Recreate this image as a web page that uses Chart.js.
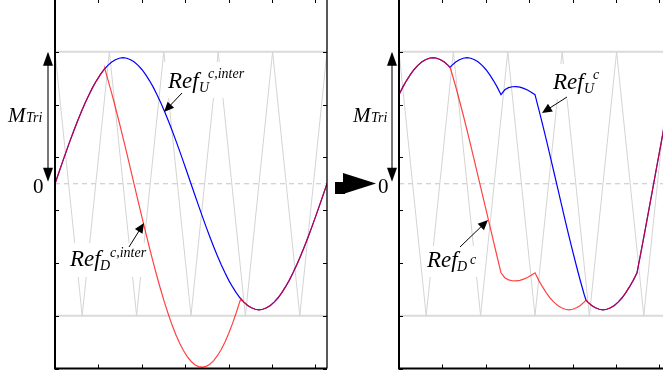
<!DOCTYPE html>
<html><head><meta charset="utf-8">
<script src="https://cdn.jsdelivr.net/npm/chart.js@4.4.0/dist/chart.umd.min.js"></script>
<style>
html,body{margin:0;padding:0;overflow:hidden;background:#fff;width:663px;height:375px;}
canvas{position:absolute;top:-3px;}
#c1{left:0px}
#c2{left:330px}
</style></head><body>
<canvas id="c1" width="330" height="380"></canvas>
<canvas id="c2" width="350" height="380"></canvas>
<script>
// ---------- data (phase angle in degrees, per-unit values) ----------
const carrierX = [0,36,72,108,144,180,216,252,288,324,360];
const carrierY = [1,-1,1,-1,1,-1,1,-1,1,-1,1];
const limitLevels = [1,-1];
const zeroLevel = 0;
const xTickPos = [0,57.4,114.9,172.3,229.8,287.2,344.7];
const yTickPos = [-1.4,-1,-0.6,-0.2,0.2,0.6,1,1.4];

const leftUpperX = [0,5,10,15,20,25,30,35,40,45,50,55,60,65,70,75,80,85,90,95,100,105,110,115,120,125,130,135,140,145,150,155,160,165,170,175,180,185,190,195,200,205,210,215,220,225,230,235,240,245,250,255,260,265,270,275,280,285,290,295,300,305,310,315,320,325,330,335,340,345,350,355,360];
const leftUpperY = [0,.083,.166,.247,.327,.404,.478,.548,.614,.675,.732,.782,.827,.866,.897,.922,.940,.951,.955,.951,.940,.922,.897,.866,.827,.782,.732,.675,.614,.548,.478,.404,.327,.247,.166,.083,0,-.083,-.166,-.247,-.327,-.404,-.478,-.548,-.614,-.675,-.732,-.782,-.827,-.866,-.897,-.922,-.940,-.951,-.955,-.951,-.940,-.922,-.897,-.866,-.827,-.782,-.732,-.675,-.614,-.548,-.478,-.404,-.327,-.247,-.166,-.083,0];

const leftLowerX = [0,5,10,15,20,25,30,35,40,45,50,55,60,65,66,70,75,80,85,90,95,100,105,110,115,120,125,130,135,140,145,150,155,160,165,170,175,180,185,190,195,200,205,210,215,220,225,230,235,240,245,246,250,255,260,265,270,275,280,285,290,295,300,305,310,315,320,325,330,335,340,345,350,355,360];
const leftLowerY = [0,.083,.166,.247,.327,.404,.478,.548,.614,.675,.732,.782,.827,.866,.870,.789,.687,.578,.466,.350,.232,.111,-.010,-.131,-.251,-.369,-.485,-.596,-.703,-.805,-.901,-.989,-1.071,-1.144,-1.209,-1.264,-1.310,-1.345,-1.371,-1.386,-1.390,-1.384,-1.367,-1.340,-1.303,-1.256,-1.199,-1.133,-1.058,-.976,-.886,-.872,-.897,-.922,-.940,-.951,-.955,-.951,-.940,-.922,-.897,-.866,-.827,-.782,-.732,-.675,-.614,-.548,-.478,-.404,-.327,-.247,-.166,-.083,0];

const rightUpperX = [0,5,10,15,20,25,30,35,40,45,50,55,60,65,67.5,70,75,80,85,90,95,100,105,110,115,120,125,130,135,140,145,150,155,160,165,170,175,180,185,190,195,200,205,210,215,220,225,230,235,240,245,247.5,250,255,260,265,270,275,280,285,290,295,300,305,310,315,320,325,330,335,340,345,350,355,360];
const rightUpperY = [.675,.732,.782,.827,.866,.897,.922,.940,.951,.955,.951,.940,.922,.897,.882,.897,.922,.940,.951,.955,.951,.940,.922,.897,.866,.827,.782,.732,.675,.712,.728,.735,.736,.732,.723,.710,.694,.675,.564,.450,.332,.211,.089,-.034,-.157,-.279,-.398,-.515,-.627,-.735,-.837,-.882,-.897,-.922,-.940,-.951,-.955,-.951,-.940,-.922,-.897,-.866,-.827,-.782,-.732,-.675,-.526,-.374,-.219,-.063,.094,.250,.405,.556,.675];

const rightLowerX = rightUpperX;
const rightLowerY = [.675,.732,.782,.827,.866,.897,.922,.940,.951,.955,.951,.940,.922,.897,.882,.837,.737,.631,.521,.406,.289,.169,.049,-.073,-.193,-.313,-.435,-.555,-.675,-.712,-.728,-.735,-.736,-.732,-.723,-.710,-.694,-.675,-.732,-.782,-.827,-.866,-.897,-.922,-.940,-.951,-.955,-.951,-.940,-.922,-.897,-.882,-.897,-.922,-.940,-.951,-.955,-.951,-.940,-.922,-.897,-.866,-.827,-.782,-.732,-.675,-.526,-.374,-.219,-.063,.094,.250,.405,.556,.675];

// ---------- helpers ----------
const zip = (xs, ys) => xs.map((x, i) => ({x, y: ys[i]}));
const SERIF = '"Liberation Serif", "DejaVu Serif", serif';

function arrowHead(ctx, x0, y0, x1, y1, len, hw) {
  const a = Math.atan2(y1 - y0, x1 - x0);
  const bx = x1 - len * Math.cos(a), by = y1 - len * Math.sin(a);
  ctx.beginPath();
  ctx.moveTo(x1, y1);
  ctx.lineTo(bx + hw * Math.sin(a), by - hw * Math.cos(a));
  ctx.lineTo(bx - hw * Math.sin(a), by + hw * Math.cos(a));
  ctx.closePath();
  ctx.fill();
}

function decorPlugin(deco) {
  return {
    id: 'decor',
    afterDatasetDraw(chart, args) {
      if (chart.data.datasets[args.index].label !== 'carrier') return;
      const ctx = chart.ctx;
      ctx.save();
      ctx.translate(-deco.left, 3);
      ctx.fillStyle = '#fff';
      deco.refs.forEach(r => { const b = r.box; ctx.fillRect(b[0], b[1], b[2]-b[0], b[3]-b[1]); });
      ctx.restore();
    },
    afterDraw(chart) {
      const ctx = chart.ctx, xs = chart.scales.x, ys = chart.scales.y, ca = chart.chartArea;
      // frame
      ctx.save();
      ctx.strokeStyle = '#000';
      ctx.lineWidth = 2;
      ctx.beginPath();
      ctx.moveTo(ca.left, ca.top); ctx.lineTo(ca.left, ca.bottom); ctx.lineTo(ca.right, ca.bottom);
      ctx.stroke();
      ctx.lineWidth = 1.3;
      ctx.beginPath();
      ctx.moveTo(ca.right, ca.bottom); ctx.lineTo(ca.right, ca.top); ctx.lineTo(ca.left, ca.top);
      ctx.stroke();
      // inward ticks
      ctx.lineWidth = 1;
      ctx.beginPath();
      xTickPos.forEach(v => {
        const p = Math.round(xs.getPixelForValue(v)) + 0.5;
        ctx.moveTo(p, ca.bottom); ctx.lineTo(p, ca.bottom - 4);
        ctx.moveTo(p, ca.top); ctx.lineTo(p, ca.top + 4);
      });
      yTickPos.forEach(v => {
        const p = Math.round(ys.getPixelForValue(v)) + 0.5;
        ctx.moveTo(ca.left, p); ctx.lineTo(ca.left + 4, p);
        ctx.moveTo(ca.right, p); ctx.lineTo(ca.right - 4, p);
      });
      ctx.stroke();
      ctx.restore();

      ctx.save();
      ctx.translate(-deco.left, 3);
      ctx.fillStyle = '#000';
      ctx.textBaseline = 'alphabetic';
      // M_Tri
      ctx.font = 'italic 21px ' + SERIF;
      ctx.fillText('M', deco.mtri.x, deco.mtri.y);
      const mw = ctx.measureText('M').width;
      ctx.font = 'italic 14px ' + SERIF;
      ctx.fillText('Tri', deco.mtri.x + mw + 0.5, deco.mtri.y);
      // zero
      ctx.font = '21px ' + SERIF;
      ctx.fillText('0', deco.zero.x, deco.zero.y);
      // double arrow
      const yTop = ys.getPixelForValue(limitLevels[0]) - 3;
      const yBot = ys.getPixelForValue(zeroLevel) - 3 - 2;
      ctx.strokeStyle = '#777';
      ctx.lineWidth = 2;
      ctx.beginPath();
      ctx.moveTo(deco.dbl.x, yTop + 10); ctx.lineTo(deco.dbl.x, yBot - 10);
      ctx.stroke();
      ctx.fillStyle = '#000';
      arrowHead(ctx, deco.dbl.x, yBot, deco.dbl.x, yTop, 14, 5);
      arrowHead(ctx, deco.dbl.x, yTop, deco.dbl.x, yBot, 14, 5);
      // labels
      deco.refs.forEach(r => {
        ctx.fillStyle = '#000';
        ctx.font = 'italic 23px ' + SERIF;
        ctx.fillText(r.main, r.x, r.y);
        ctx.font = 'italic 14px ' + SERIF;
        ctx.fillText(r.sub, r.subX, r.subY);
        ctx.font = 'italic 14px ' + SERIF;
        ctx.fillText(r.sup, r.supX, r.supY);
        ctx.strokeStyle = '#000';
        ctx.lineWidth = 1;
        ctx.beginPath();
        ctx.moveTo(r.from[0], r.from[1]);
        const a = Math.atan2(r.to[1]-r.from[1], r.to[0]-r.from[0]);
        ctx.lineTo(r.to[0] - 8*Math.cos(a), r.to[1] - 8*Math.sin(a));
        ctx.stroke();
        arrowHead(ctx, r.from[0], r.from[1], r.to[0], r.to[1], 10, 4.5);
      });
      // big arrow between panels
      if (deco.bigArrow) {
        ctx.fillStyle = '#000';
        ctx.fillRect(335, 182, 10, 12);
        ctx.beginPath();
        ctx.moveTo(343, 173); ctx.lineTo(376, 183.5); ctx.lineTo(343, 194);
        ctx.closePath(); ctx.fill();
      }
      ctx.restore();
    }
  };
}

function buildChart(id, upperX, upperY, lowerX, lowerY, padding, deco) {
  const xmin = carrierX[0], xmax = carrierX[carrierX.length - 1];
  const hline = (v, color, width, dash) => ({
    label: 'level', data: [{x: xmin, y: v}, {x: xmax, y: v}],
    borderColor: color, borderWidth: width, borderDash: dash, pointRadius: 0, order: 3
  });
  return new Chart(document.getElementById(id), {
    type: 'line',
    data: {
      datasets: [
        {label: 'lower', data: zip(lowerX, lowerY), borderColor: 'rgba(255,0,0,0.74)', borderWidth: 1.2, pointRadius: 0, tension: 0, order: 0},
        {label: 'upper', data: zip(upperX, upperY), borderColor: '#0000ff', borderWidth: 1.2, pointRadius: 0, tension: 0, order: 1},
        {label: 'carrier', data: zip(carrierX, carrierY), borderColor: '#d4d4d4', borderWidth: 1, pointRadius: 0, tension: 0, order: 2},
        hline(limitLevels[0], '#dadada', 2, []),
        hline(limitLevels[1], '#dadada', 2, []),
        hline(zeroLevel, '#c4c4c4', 1, [5, 4])
      ]
    },
    options: {
      responsive: false, animation: false, events: [],
      layout: {padding},
      scales: {
        x: {type: 'linear', min: xmin, max: xmax, display: false},
        y: {type: 'linear', min: -1.4, max: 1.4, display: false}
      },
      plugins: {legend: {display: false}, tooltip: {enabled: false}}
    },
    plugins: [decorPlugin(deco)]
  });
}

buildChart('c1', leftUpperX, leftUpperY, leftLowerX, leftLowerY,
  {left: 55, right: 3, top: 2, bottom: 8.5},
  {left: 0, mtri: {x: 8, y: 122}, zero: {x: 33, y: 193}, dbl: {x: 48}, bigArrow: false,
   refs: [
     {main: 'Ref', sub: 'U', sup: 'c,inter', x: 168, y: 88, subX: 199, subY: 92, supX: 208, supY: 78, box: [164, 62, 247, 98], from: [182, 93], to: [164, 112]},
     {main: 'Ref', sub: 'D', sup: 'c,inter', x: 70, y: 266, subX: 100, subY: 270, supX: 110, supY: 257, box: [66, 243, 147, 277], from: [129, 247], to: [144, 223]}
   ]});

buildChart('c2', rightUpperX, rightUpperY, rightLowerX, rightLowerY,
  {left: 69, right: 9, top: 2, bottom: 8.5},
  {left: 330, mtri: {x: 353, y: 122}, zero: {x: 378, y: 193}, dbl: {x: 392}, bigArrow: true,
   refs: [
     {main: 'Ref', sub: 'U', sup: 'c', x: 553, y: 89, subX: 584, subY: 93, supX: 593, supY: 79, box: [549, 64, 604, 99], from: [567, 97], to: [542, 113]},
     {main: 'Ref', sub: 'D', sup: 'c', x: 427, y: 267, subX: 457, subY: 271, supX: 470, supY: 264, box: [423, 246, 480, 277], from: [460, 247], to: [488, 220]}
   ]});
</script>
</body></html>
